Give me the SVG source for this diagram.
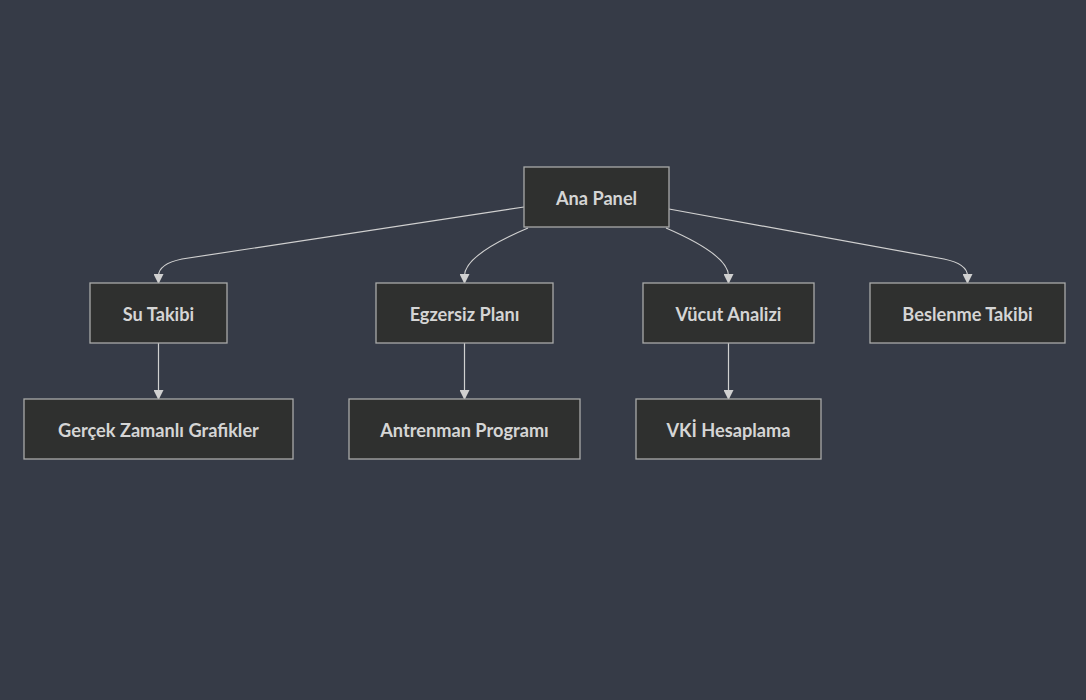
<svg xmlns="http://www.w3.org/2000/svg" width="1086" height="700" viewBox="0 0 1086 700">
<style>
.node rect{fill:#2f302f;stroke:#a9aaa9;stroke-width:1.3}
.node text{fill:#d5d5d5;font-family:"Lato","DejaVu Sans",sans-serif;font-size:18.2px;font-weight:bold;text-anchor:middle;dominant-baseline:central}
.edge{fill:none;stroke:#d0d0d0;stroke-width:1.2}
</style>
<defs>
<marker id="arr" viewBox="0 0 10 10" refX="9" refY="5" markerWidth="10" markerHeight="10" orient="auto" markerUnits="userSpaceOnUse">
<path d="M0,0 L10,5 L0,10 z" fill="#d0d0d0"/>
</marker>
</defs>
<rect width="1086" height="700" fill="#363b47"/>
<g id="connectors">
<path class="edge" d="M524,207 L182,259 Q158.5,264 158.5,276 L158.5,283" marker-end="url(#arr)"/>
<path class="edge" d="M528,228 Q464.5,255 464.5,276 L464.5,283" marker-end="url(#arr)"/>
<path class="edge" d="M666,228 Q728.5,255 728.5,276 L728.5,283" marker-end="url(#arr)"/>
<path class="edge" d="M669,209 L944,259 Q967.5,264 967.5,276 L967.5,283" marker-end="url(#arr)"/>
<path class="edge" d="M158.5,343 L158.5,399" marker-end="url(#arr)"/>
<path class="edge" d="M464.5,343 L464.5,399" marker-end="url(#arr)"/>
<path class="edge" d="M728.5,343 L728.5,399" marker-end="url(#arr)"/>
</g>
<g id="ana" class="node"><rect x="524" y="167" width="145" height="60"/><text x="596.5" y="198">Ana Panel</text></g>
<g id="su" class="node"><rect x="90" y="283" width="137" height="60"/><text x="158.5" y="314">Su Takibi</text></g>
<g id="egzersiz" class="node"><rect x="376" y="283" width="177" height="60"/><text x="464.5" y="314">Egzersiz Planı</text></g>
<g id="vucut" class="node"><rect x="643" y="283" width="171" height="60"/><text x="728.5" y="314">Vücut Analizi</text></g>
<g id="beslenme" class="node"><rect x="870" y="283" width="195" height="60"/><text x="967.5" y="314">Beslenme Takibi</text></g>
<g id="grafik" class="node"><rect x="24" y="399" width="269" height="60"/><text x="158.5" y="430">Gerçek Zamanlı Grafikler</text></g>
<g id="antrenman" class="node"><rect x="349" y="399" width="231" height="60"/><text x="464.5" y="430">Antrenman Programı</text></g>
<g id="vki" class="node"><rect x="636" y="399" width="185" height="60"/><text x="728.5" y="430">VKİ Hesaplama</text></g>
</svg>
